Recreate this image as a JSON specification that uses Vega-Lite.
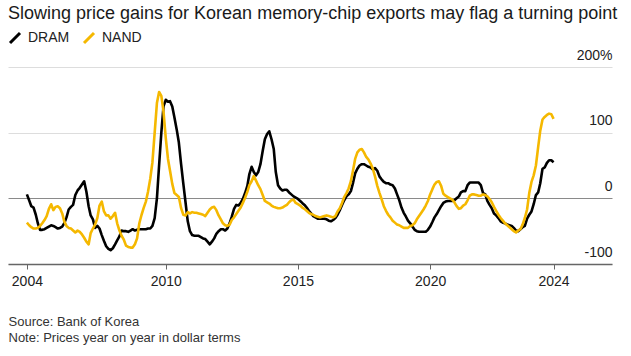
{
  "$schema": "https://vega.github.io/schema/vega-lite/v6.json",
  "width": 604,
  "height": 197,
  "autosize": "none",
  "padding": {"left": 8, "top": 67, "right": 19, "bottom": 92},
  "background": "white",
  "config": {"view": {"stroke": null}, "font": "Liberation Sans"},
  "title": {
    "text": "Slowing price gains for Korean memory-chip exports may flag a turning point",
    "anchor": "start",
    "frame": "group",
    "fontSize": 18,
    "fontWeight": "normal",
    "color": "#1a1a1a",
    "offset": 8
  },
  "data": {
    "values": [
      {"date": "2004-10", "DRAM": 6, "NAND": -37},
      {"date": "2004-11", "DRAM": -3, "NAND": -41},
      {"date": "2004-12", "DRAM": -12, "NAND": -44},
      {"date": "2005-01", "DRAM": -14, "NAND": -46},
      {"date": "2005-02", "DRAM": -25, "NAND": -46},
      {"date": "2005-03", "DRAM": -38, "NAND": -45},
      {"date": "2005-04", "DRAM": -48, "NAND": -42},
      {"date": "2005-05", "DRAM": -48, "NAND": -38},
      {"date": "2005-06", "DRAM": -47, "NAND": -33},
      {"date": "2005-07", "DRAM": -45, "NAND": -27},
      {"date": "2005-08", "DRAM": -43, "NAND": -16},
      {"date": "2005-09", "DRAM": -41, "NAND": -9},
      {"date": "2005-10", "DRAM": -42, "NAND": -18},
      {"date": "2005-11", "DRAM": -44, "NAND": -13},
      {"date": "2005-12", "DRAM": -46, "NAND": -12},
      {"date": "2006-01", "DRAM": -45, "NAND": -15},
      {"date": "2006-02", "DRAM": -43, "NAND": -23},
      {"date": "2006-03", "DRAM": -38, "NAND": -35},
      {"date": "2006-04", "DRAM": -29, "NAND": -42},
      {"date": "2006-05", "DRAM": -17, "NAND": -45},
      {"date": "2006-06", "DRAM": -13, "NAND": -46},
      {"date": "2006-07", "DRAM": -10, "NAND": -49},
      {"date": "2006-08", "DRAM": 5, "NAND": -52},
      {"date": "2006-09", "DRAM": 12, "NAND": -49},
      {"date": "2006-10", "DRAM": 16, "NAND": -51},
      {"date": "2006-11", "DRAM": 21, "NAND": -55},
      {"date": "2006-12", "DRAM": 26, "NAND": -60},
      {"date": "2007-01", "DRAM": 10, "NAND": -66},
      {"date": "2007-02", "DRAM": -12, "NAND": -70},
      {"date": "2007-03", "DRAM": -26, "NAND": -53},
      {"date": "2007-04", "DRAM": -32, "NAND": -46},
      {"date": "2007-05", "DRAM": -45, "NAND": -40},
      {"date": "2007-06", "DRAM": -42, "NAND": -30},
      {"date": "2007-07", "DRAM": -46, "NAND": -11},
      {"date": "2007-08", "DRAM": -56, "NAND": -5},
      {"date": "2007-09", "DRAM": -65, "NAND": -20},
      {"date": "2007-10", "DRAM": -73, "NAND": -26},
      {"date": "2007-11", "DRAM": -77, "NAND": -26},
      {"date": "2007-12", "DRAM": -79, "NAND": -31},
      {"date": "2008-01", "DRAM": -76, "NAND": -27},
      {"date": "2008-02", "DRAM": -70, "NAND": -22},
      {"date": "2008-03", "DRAM": -64, "NAND": -38},
      {"date": "2008-04", "DRAM": -58, "NAND": -49},
      {"date": "2008-05", "DRAM": -49, "NAND": -57},
      {"date": "2008-06", "DRAM": -50, "NAND": -63},
      {"date": "2008-07", "DRAM": -50, "NAND": -72},
      {"date": "2008-08", "DRAM": -51, "NAND": -74},
      {"date": "2008-09", "DRAM": -49, "NAND": -75},
      {"date": "2008-10", "DRAM": -47, "NAND": -75},
      {"date": "2008-11", "DRAM": -49, "NAND": -70},
      {"date": "2008-12", "DRAM": -48, "NAND": -61},
      {"date": "2009-01", "DRAM": -47, "NAND": -38},
      {"date": "2009-02", "DRAM": -47, "NAND": -25},
      {"date": "2009-03", "DRAM": -47, "NAND": -15},
      {"date": "2009-04", "DRAM": -47, "NAND": -5},
      {"date": "2009-05", "DRAM": -46, "NAND": 10},
      {"date": "2009-06", "DRAM": -46, "NAND": 30},
      {"date": "2009-07", "DRAM": -42, "NAND": 55},
      {"date": "2009-08", "DRAM": -30, "NAND": 100},
      {"date": "2009-09", "DRAM": 0, "NAND": 145},
      {"date": "2009-10", "DRAM": 50, "NAND": 162},
      {"date": "2009-11", "DRAM": 100, "NAND": 156},
      {"date": "2009-12", "DRAM": 140, "NAND": 132},
      {"date": "2010-01", "DRAM": 150, "NAND": 92},
      {"date": "2010-02", "DRAM": 147, "NAND": 60},
      {"date": "2010-03", "DRAM": 148, "NAND": 42},
      {"date": "2010-04", "DRAM": 140, "NAND": 22},
      {"date": "2010-05", "DRAM": 123, "NAND": 8},
      {"date": "2010-06", "DRAM": 105, "NAND": 5},
      {"date": "2010-07", "DRAM": 85, "NAND": 2},
      {"date": "2010-08", "DRAM": 52, "NAND": -15},
      {"date": "2010-09", "DRAM": 22, "NAND": -25},
      {"date": "2010-10", "DRAM": -6, "NAND": -26},
      {"date": "2010-11", "DRAM": -35, "NAND": -21},
      {"date": "2010-12", "DRAM": -50, "NAND": -23},
      {"date": "2011-01", "DRAM": -56, "NAND": -21},
      {"date": "2011-02", "DRAM": -57, "NAND": -22},
      {"date": "2011-03", "DRAM": -57, "NAND": -22},
      {"date": "2011-04", "DRAM": -57, "NAND": -23},
      {"date": "2011-05", "DRAM": -59, "NAND": -24},
      {"date": "2011-06", "DRAM": -61, "NAND": -25},
      {"date": "2011-07", "DRAM": -62, "NAND": -27},
      {"date": "2011-08", "DRAM": -66, "NAND": -22},
      {"date": "2011-09", "DRAM": -70, "NAND": -17},
      {"date": "2011-10", "DRAM": -66, "NAND": -14},
      {"date": "2011-11", "DRAM": -61, "NAND": -13},
      {"date": "2011-12", "DRAM": -54, "NAND": -18},
      {"date": "2012-01", "DRAM": -50, "NAND": -26},
      {"date": "2012-02", "DRAM": -47, "NAND": -32},
      {"date": "2012-03", "DRAM": -47, "NAND": -38},
      {"date": "2012-04", "DRAM": -49, "NAND": -41},
      {"date": "2012-05", "DRAM": -46, "NAND": -42},
      {"date": "2012-06", "DRAM": -38, "NAND": -40},
      {"date": "2012-07", "DRAM": -28, "NAND": -33},
      {"date": "2012-08", "DRAM": -16, "NAND": -29},
      {"date": "2012-09", "DRAM": -10, "NAND": -24},
      {"date": "2012-10", "DRAM": -11, "NAND": -19},
      {"date": "2012-11", "DRAM": -7, "NAND": -14},
      {"date": "2012-12", "DRAM": -1, "NAND": -7},
      {"date": "2013-01", "DRAM": 8, "NAND": 1},
      {"date": "2013-02", "DRAM": 19, "NAND": 10},
      {"date": "2013-03", "DRAM": 37, "NAND": 20},
      {"date": "2013-04", "DRAM": 48, "NAND": 26},
      {"date": "2013-05", "DRAM": 40, "NAND": 34},
      {"date": "2013-06", "DRAM": 35, "NAND": 27},
      {"date": "2013-07", "DRAM": 40, "NAND": 20},
      {"date": "2013-08", "DRAM": 52, "NAND": 14},
      {"date": "2013-09", "DRAM": 72, "NAND": 5},
      {"date": "2013-10", "DRAM": 90, "NAND": -4},
      {"date": "2013-11", "DRAM": 98, "NAND": -6},
      {"date": "2013-12", "DRAM": 102, "NAND": -8},
      {"date": "2014-01", "DRAM": 90, "NAND": -11},
      {"date": "2014-02", "DRAM": 75, "NAND": -13},
      {"date": "2014-03", "DRAM": 40, "NAND": -14},
      {"date": "2014-04", "DRAM": 20, "NAND": -15},
      {"date": "2014-05", "DRAM": 15, "NAND": -15},
      {"date": "2014-06", "DRAM": 12, "NAND": -14},
      {"date": "2014-07", "DRAM": 13, "NAND": -12},
      {"date": "2014-08", "DRAM": 13, "NAND": -10},
      {"date": "2014-09", "DRAM": 9, "NAND": -6},
      {"date": "2014-10", "DRAM": 6, "NAND": -3},
      {"date": "2014-11", "DRAM": 3, "NAND": -2},
      {"date": "2014-12", "DRAM": 1, "NAND": -7},
      {"date": "2015-01", "DRAM": -1, "NAND": -9},
      {"date": "2015-02", "DRAM": -4, "NAND": -11},
      {"date": "2015-03", "DRAM": -7, "NAND": -14},
      {"date": "2015-04", "DRAM": -10, "NAND": -16},
      {"date": "2015-05", "DRAM": -14, "NAND": -19},
      {"date": "2015-06", "DRAM": -19, "NAND": -22},
      {"date": "2015-07", "DRAM": -23, "NAND": -24},
      {"date": "2015-08", "DRAM": -27, "NAND": -25},
      {"date": "2015-09", "DRAM": -29, "NAND": -27},
      {"date": "2015-10", "DRAM": -31, "NAND": -28},
      {"date": "2015-11", "DRAM": -31, "NAND": -29},
      {"date": "2015-12", "DRAM": -31, "NAND": -28},
      {"date": "2016-01", "DRAM": -31, "NAND": -27},
      {"date": "2016-02", "DRAM": -32, "NAND": -26},
      {"date": "2016-03", "DRAM": -34, "NAND": -27},
      {"date": "2016-04", "DRAM": -35, "NAND": -28},
      {"date": "2016-05", "DRAM": -33, "NAND": -29},
      {"date": "2016-06", "DRAM": -30, "NAND": -27},
      {"date": "2016-07", "DRAM": -25, "NAND": -20},
      {"date": "2016-08", "DRAM": -18, "NAND": -15},
      {"date": "2016-09", "DRAM": -10, "NAND": -7},
      {"date": "2016-10", "DRAM": -3, "NAND": 2},
      {"date": "2016-11", "DRAM": 3, "NAND": 8},
      {"date": "2016-12", "DRAM": 6, "NAND": 15},
      {"date": "2017-01", "DRAM": 11, "NAND": 26},
      {"date": "2017-02", "DRAM": 24, "NAND": 43},
      {"date": "2017-03", "DRAM": 38, "NAND": 60},
      {"date": "2017-04", "DRAM": 45, "NAND": 70},
      {"date": "2017-05", "DRAM": 50, "NAND": 74},
      {"date": "2017-06", "DRAM": 52, "NAND": 75},
      {"date": "2017-07", "DRAM": 52, "NAND": 70},
      {"date": "2017-08", "DRAM": 50, "NAND": 63},
      {"date": "2017-09", "DRAM": 48, "NAND": 59},
      {"date": "2017-10", "DRAM": 47, "NAND": 53},
      {"date": "2017-11", "DRAM": 44, "NAND": 45},
      {"date": "2017-12", "DRAM": 46, "NAND": 33},
      {"date": "2018-01", "DRAM": 42, "NAND": 19},
      {"date": "2018-02", "DRAM": 33, "NAND": 8},
      {"date": "2018-03", "DRAM": 29, "NAND": -1},
      {"date": "2018-04", "DRAM": 25, "NAND": -12},
      {"date": "2018-05", "DRAM": 23, "NAND": -19},
      {"date": "2018-06", "DRAM": 23, "NAND": -25},
      {"date": "2018-07", "DRAM": 21, "NAND": -29},
      {"date": "2018-08", "DRAM": 20, "NAND": -34},
      {"date": "2018-09", "DRAM": 15, "NAND": -37},
      {"date": "2018-10", "DRAM": 6, "NAND": -40},
      {"date": "2018-11", "DRAM": -3, "NAND": -41},
      {"date": "2018-12", "DRAM": -14, "NAND": -43},
      {"date": "2019-01", "DRAM": -22, "NAND": -45},
      {"date": "2019-02", "DRAM": -28, "NAND": -45},
      {"date": "2019-03", "DRAM": -34, "NAND": -45},
      {"date": "2019-04", "DRAM": -38, "NAND": -42},
      {"date": "2019-05", "DRAM": -43, "NAND": -41},
      {"date": "2019-06", "DRAM": -48, "NAND": -38},
      {"date": "2019-07", "DRAM": -50, "NAND": -32},
      {"date": "2019-08", "DRAM": -51, "NAND": -27},
      {"date": "2019-09", "DRAM": -51, "NAND": -22},
      {"date": "2019-10", "DRAM": -51, "NAND": -17},
      {"date": "2019-11", "DRAM": -51, "NAND": -11},
      {"date": "2019-12", "DRAM": -48, "NAND": -4},
      {"date": "2020-01", "DRAM": -43, "NAND": 6},
      {"date": "2020-02", "DRAM": -36, "NAND": 14},
      {"date": "2020-03", "DRAM": -29, "NAND": 21},
      {"date": "2020-04", "DRAM": -24, "NAND": 25},
      {"date": "2020-05", "DRAM": -18, "NAND": 26},
      {"date": "2020-06", "DRAM": -12, "NAND": 19},
      {"date": "2020-07", "DRAM": -7, "NAND": 7},
      {"date": "2020-08", "DRAM": -5, "NAND": 4},
      {"date": "2020-09", "DRAM": -4, "NAND": 2},
      {"date": "2020-10", "DRAM": -4, "NAND": 0},
      {"date": "2020-11", "DRAM": -4, "NAND": -2},
      {"date": "2020-12", "DRAM": -3, "NAND": -6},
      {"date": "2021-01", "DRAM": 0, "NAND": -12},
      {"date": "2021-02", "DRAM": 3, "NAND": -16},
      {"date": "2021-03", "DRAM": 9, "NAND": -15},
      {"date": "2021-04", "DRAM": 11, "NAND": -11},
      {"date": "2021-05", "DRAM": 11, "NAND": -9},
      {"date": "2021-06", "DRAM": 20, "NAND": -3},
      {"date": "2021-07", "DRAM": 24, "NAND": 4},
      {"date": "2021-08", "DRAM": 24, "NAND": 6},
      {"date": "2021-09", "DRAM": 24, "NAND": 6},
      {"date": "2021-10", "DRAM": 24, "NAND": 5},
      {"date": "2021-11", "DRAM": 24, "NAND": 4},
      {"date": "2021-12", "DRAM": 20, "NAND": 4},
      {"date": "2022-01", "DRAM": 8, "NAND": 6},
      {"date": "2022-02", "DRAM": 6, "NAND": 5},
      {"date": "2022-03", "DRAM": -4, "NAND": 3},
      {"date": "2022-04", "DRAM": -10, "NAND": -1},
      {"date": "2022-05", "DRAM": -15, "NAND": -6},
      {"date": "2022-06", "DRAM": -23, "NAND": -13},
      {"date": "2022-07", "DRAM": -26, "NAND": -19},
      {"date": "2022-08", "DRAM": -30, "NAND": -25},
      {"date": "2022-09", "DRAM": -35, "NAND": -30},
      {"date": "2022-10", "DRAM": -37, "NAND": -34},
      {"date": "2022-11", "DRAM": -38, "NAND": -38},
      {"date": "2022-12", "DRAM": -40, "NAND": -41},
      {"date": "2023-01", "DRAM": -41, "NAND": -44},
      {"date": "2023-02", "DRAM": -42, "NAND": -47},
      {"date": "2023-03", "DRAM": -45, "NAND": -50},
      {"date": "2023-04", "DRAM": -49, "NAND": -52},
      {"date": "2023-05", "DRAM": -50, "NAND": -49},
      {"date": "2023-06", "DRAM": -47, "NAND": -47},
      {"date": "2023-07", "DRAM": -44, "NAND": -40},
      {"date": "2023-08", "DRAM": -42, "NAND": -30},
      {"date": "2023-09", "DRAM": -31, "NAND": -17},
      {"date": "2023-10", "DRAM": -25, "NAND": 8},
      {"date": "2023-11", "DRAM": -20, "NAND": 25},
      {"date": "2023-12", "DRAM": -9, "NAND": 35},
      {"date": "2024-01", "DRAM": 5, "NAND": 50},
      {"date": "2024-02", "DRAM": 9, "NAND": 78},
      {"date": "2024-03", "DRAM": 23, "NAND": 103},
      {"date": "2024-04", "DRAM": 45, "NAND": 120},
      {"date": "2024-05", "DRAM": 47, "NAND": 124},
      {"date": "2024-06", "DRAM": 54, "NAND": 127},
      {"date": "2024-07", "DRAM": 58, "NAND": 129},
      {"date": "2024-08", "DRAM": 58, "NAND": 128},
      {"date": "2024-09", "DRAM": 55, "NAND": 121}
    ]
  },
  "transform": [{"fold": ["DRAM", "NAND"], "as": ["series", "value"]}],
  "mark": {"type": "line", "strokeWidth": 2.6, "strokeJoin": "round"},
  "encoding": {
    "x": {
      "field": "date",
      "type": "temporal",
      "scale": {
        "type": "utc",
        "domain": [
          {"year": 2004, "month": 1, "date": 14, "utc": true},
          {"year": 2026, "month": 11, "date": 17, "utc": true}
        ]
      },
      "axis": {
        "values": [
          {"year": 2004, "month": 10, "date": 1, "utc": true},
          {"year": 2010, "month": 1, "date": 1, "utc": true},
          {"year": 2015, "month": 1, "date": 1, "utc": true},
          {"year": 2020, "month": 1, "date": 1, "utc": true},
          {"year": 2024, "month": 9, "date": 1, "utc": true}
        ],
        "format": "%Y",
        "grid": false,
        "domainColor": "#666666",
        "domainWidth": 1.5,
        "tickColor": "#666666",
        "tickSize": 5,
        "tickWidth": 1,
        "labelFontSize": 14,
        "labelColor": "#222222",
        "labelPadding": 5,
        "labelFlush": false,
        "labelOverlap": false,
        "title": ["Source: Bank of Korea", "Note: Prices year on year in dollar terms"],
        "titleFontSize": 13,
        "titleFontWeight": "normal",
        "titleColor": "#333333",
        "titleAnchor": "start",
        "titleAlign": "left",
        "titleX": 0,
        "titleY": 51,
        "titleBaseline": "top",
        "titleLineHeight": 16
      }
    },
    "y": {
      "field": "value",
      "type": "quantitative",
      "scale": {"domain": [-100, 200], "nice": false, "zero": false},
      "axis": {
        "orient": "right",
        "values": [-100, 0, 100, 200],
        "domain": false,
        "ticks": false,
        "tickSize": 0,
        "labelAlign": "right",
        "labelBaseline": "alphabetic",
        "labelOffset": -8,
        "labelPadding": 0,
        "labelFontSize": 14,
        "labelColor": "#222222",
        "labelExpr": "datum.value == 200 ? '200%' : '' + datum.value",
        "gridColor": {"condition": {"test": "datum.value === 0", "value": "#8a8a8a"}, "value": "#dddddd"},
        "gridWidth": 1,
        "title": null
      }
    },
    "color": {
      "field": "series",
      "type": "nominal",
      "scale": {"domain": ["DRAM", "NAND"], "range": ["#000000", "#f5b800"]},
      "legend": {
        "title": null,
        "orient": "none",
        "legendX": 0,
        "legendY": -36,
        "direction": "horizontal",
        "symbolType": "M-1,1L1,-1",
        "symbolStrokeWidth": 3,
        "symbolSize": 100,
        "labelFontSize": 14,
        "labelColor": "#222222",
        "columnPadding": 8,
        "labelOffset": 6,
        "padding": 0
      }
    }
  }
}
